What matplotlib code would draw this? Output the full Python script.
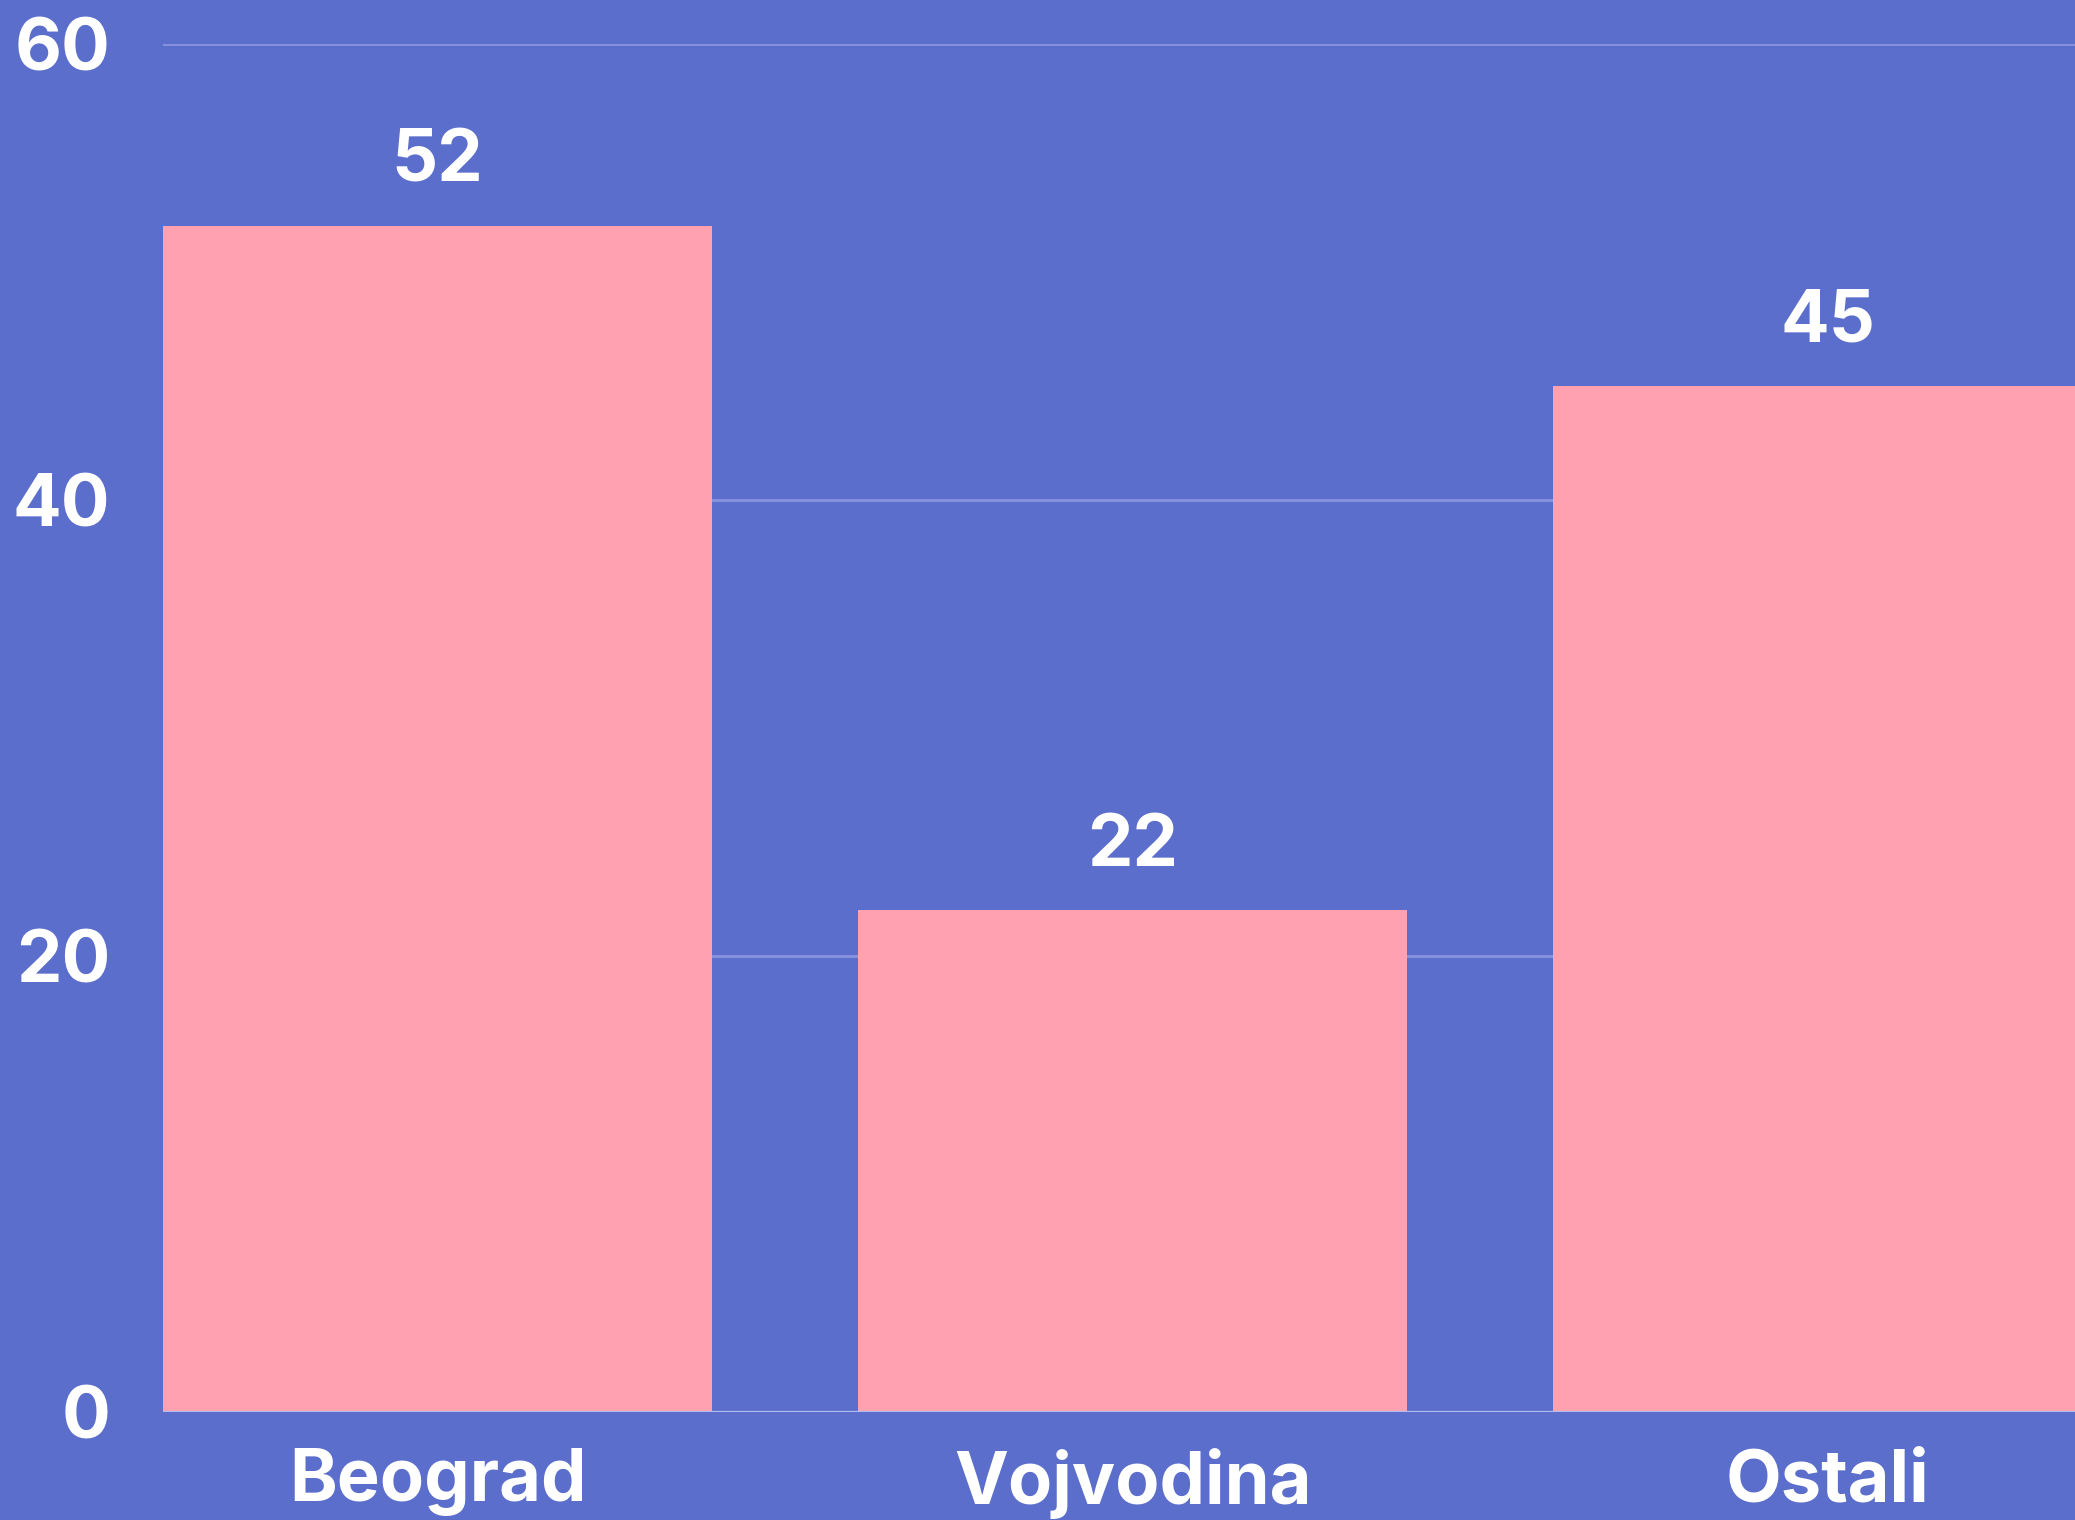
import matplotlib
matplotlib.use("Agg")
import matplotlib.pyplot as plt

categories = ["Beograd", "Vojvodina", "Ostali"]
values = [52, 22, 45]
yticks = [0, 20, 40, 60]

BG = "#5b6ecc"
BAR = "#ffa1b0"
GRID = "#8591dd"
ZERO = "#b3bcee"

plt.rcParams['font.family'] = ['Inter', 'DejaVu Sans']
FS = 52
W = "bold"

fig = plt.figure(figsize=(20.75, 15.2), dpi=100, facecolor=BG)
ax = fig.add_axes([163/2075, 108/1520, 1 - 163/2075, 1368/1520])
ax.set_facecolor(BG)

x = list(range(len(categories)))
width = 0.79
ax.bar(x, values, width=width, color=BAR, zorder=2)

for xi, v in zip(x, values):
    ax.annotate(str(v), (xi, v), xytext=(0, 32), textcoords="offset points",
                ha="center", va="baseline", fontsize=FS, fontweight=W,
                color="white")

ax.set_ylim(0, 60)
ax.set_xlim(-width/2, 2.356)
ax.set_yticks(yticks)
ax.set_yticklabels([str(t) for t in yticks])
ax.set_xticks(x)
ax.set_xticklabels(categories)

ax.yaxis.grid(True, color=GRID, linewidth=2.2, zorder=0)
ax.set_axisbelow(True)
ax.axhline(0, color=ZERO, linewidth=1.6, zorder=3)

for s in ax.spines.values():
    s.set_visible(False)
ax.tick_params(axis="both", length=0, colors="white", labelsize=FS)
ax.tick_params(axis="y", pad=38)
ax.tick_params(axis="x", pad=26)
for lab in ax.get_xticklabels() + ax.get_yticklabels():
    lab.set_fontweight(W)
    lab.set_color("white")

fig.savefig("out.png", dpi=100, facecolor=BG)
